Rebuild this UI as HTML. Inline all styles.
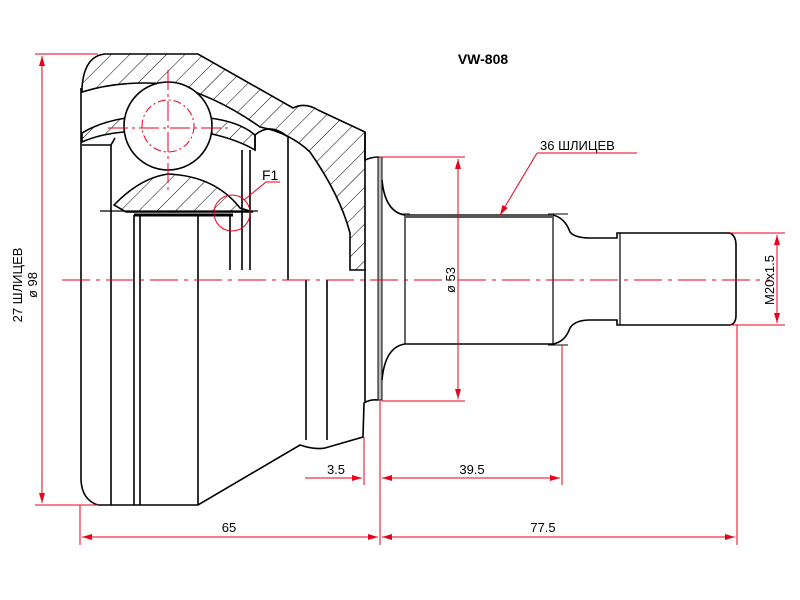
<!DOCTYPE html>
<html><head><meta charset="utf-8"><style>
html,body{margin:0;padding:0;background:#fff;}
svg{display:block;}
text{font-family:"Liberation Sans",sans-serif;}
</style></head><body>
<svg width="800" height="600" viewBox="0 0 800 600" xmlns="http://www.w3.org/2000/svg">
<defs>
<pattern id="h" patternUnits="userSpaceOnUse" width="13" height="13" patternTransform="rotate(45)">
<line x1="0" y1="0" x2="0" y2="13" stroke="#000" stroke-width="1"/>
</pattern>
<marker id="a" viewBox="0 0 10 6" refX="10" refY="3" markerWidth="10" markerHeight="6" orient="auto-start-reverse" markerUnits="userSpaceOnUse">
<path d="M0,0 L10,3 L0,6z" fill="#e8001c"/></marker>
</defs>
<g fill="none" stroke="#000" stroke-width="1.6">
<!-- hatched outer race section -->
<path d="M82,88 Q84,56 105,54 L198,54 L293,108 Q305,102 318,110 L365,132 L365,270 L350,270 L350,233 Q340,195 310,152 Q290,133 260,127 Q215,95 168,84 Q120,80 82,92 Z" fill="url(#h)"/>
<!-- cage band hatched -->
<path d="M82,133 Q100,122 126,118 L124,132 Q100,134 82,142 Z" fill="url(#h)"/>
<path d="M210,118 Q240,122 255,135 L255,150 Q238,140 212,134 Z" fill="url(#h)"/>
<!-- ball -->
<circle cx="168" cy="126" r="44" fill="#fff"/>
<path d="M242,150 L242,270 M250,150 L250,270" />
<path d="M255,150 L255,135 Q270,122 288,137 L288,280" />
<!-- inner race hatched -->
<path d="M114,205 Q140,178 168,174 Q215,176 240,208 L253,212 L126,212 Z" fill="url(#h)"/>
<path d="M100,211 L258,211" stroke-width="1.2"/>
<path d="M134,215 L233,215" stroke-width="3"/>
<!-- outer contour -->
<path d="M81,88 L81,480 Q82,500 98,505 L198,505 L300,445 Q315,450 325,448 L363,437 L364,403 Q370,399 378,400"/>
<path d="M365,132 L365,160 Q372,157 378,157"/>
<!-- verticals -->
<path d="M111,145 L111,505 M134,215 L134,505 M140,215 L140,505 M198,215 L198,505 M230,215 L230,270 M306,280 L306,440 M327,280 L327,440 M365,270 L365,403"/>
<path d="M111,145 L115,138 M111,145 L82,145"/>
<rect x="378" y="157" width="4" height="243" fill="#bbb" stroke-width="1"/>
<!-- stem -->
<path d="M382,180 Q385,212 405,215 L553,215 Q565,218 570,232 Q575,238 590,238 L617,238 L617,233 L730,233 Q736,236 736,245 L736,315 Q736,324 730,325 L617,325 L617,320 L590,320 Q575,320 570,328 Q565,342 553,344 L405,344 Q385,347 382,380"/>
<path d="M405,215 L405,344 M553,215 L553,344 M620,233 L620,325" stroke-width="1.2"/>
<path d="M405,216 L553,216" stroke="#555" stroke-width="4"/>
<path d="M400,214 L410,214 M548,214 L568,214 M548,345 L568,345" stroke-width="1"/>
</g>
<!-- red center & construction lines -->
<g stroke="#e8001c" fill="none" stroke-width="1">
<path d="M62,280 L770,280" stroke-dasharray="28,6,4,6"/>
<path d="M168,70 L168,190 M108,128 L228,128" stroke-dasharray="20,4,3,4"/>
<circle cx="168" cy="126" r="26" stroke-dasharray="8,3,2,3"/>
<circle cx="232" cy="213" r="18"/>
<path d="M244,200 L266,182 L280,182"/>
<path d="M35,54 L98,54 M35,505 L98,505"/>
<path d="M42,56 L42,503" marker-start="url(#a)" marker-end="url(#a)"/>
<path d="M80,505 L80,545 M380,400 L380,545 M737,325 L737,545 M364,437 L364,485 M562,345 L562,485"/>
<path d="M82,537 L378,537" marker-start="url(#a)" marker-end="url(#a)"/>
<path d="M382,537 L735,537" marker-start="url(#a)" marker-end="url(#a)"/>
<path d="M305,478 L362,478" marker-end="url(#a)"/>
<path d="M382,478 L560,478" marker-start="url(#a)" marker-end="url(#a)"/>
<path d="M380,157 L465,157 M382,401 L465,401"/>
<path d="M458,159 L458,399" marker-start="url(#a)" marker-end="url(#a)"/>
<path d="M730,233 L785,233 M730,325 L785,325"/>
<path d="M777,235 L777,323" marker-start="url(#a)" marker-end="url(#a)"/>
<path d="M537,153 L500,215" marker-end="url(#a)"/>
<path d="M537,153 L637,153"/>
</g>
<g fill="#000" font-size="13">
<text x="483" y="64" font-weight="bold" text-anchor="middle" font-size="14">VW-808</text>
<text x="540" y="150">36 ШЛИЦЕВ</text>
<text x="262" y="180" font-size="14">F1</text>
<text x="229" y="532" text-anchor="middle">65</text>
<text x="543" y="532" text-anchor="middle">77.5</text>
<text x="336" y="474" text-anchor="middle">3.5</text>
<text x="472" y="474" text-anchor="middle">39.5</text>
<text transform="translate(455,280) rotate(-90)" text-anchor="middle">ø 53</text>
<text transform="translate(774,280) rotate(-90)" text-anchor="middle">M20x1.5</text>
<text transform="translate(22,285) rotate(-90)" text-anchor="middle">27 ШЛИЦЕВ</text>
<text transform="translate(37,285) rotate(-90)" text-anchor="middle">ø 98</text>
</g>
</svg>
</body></html>
